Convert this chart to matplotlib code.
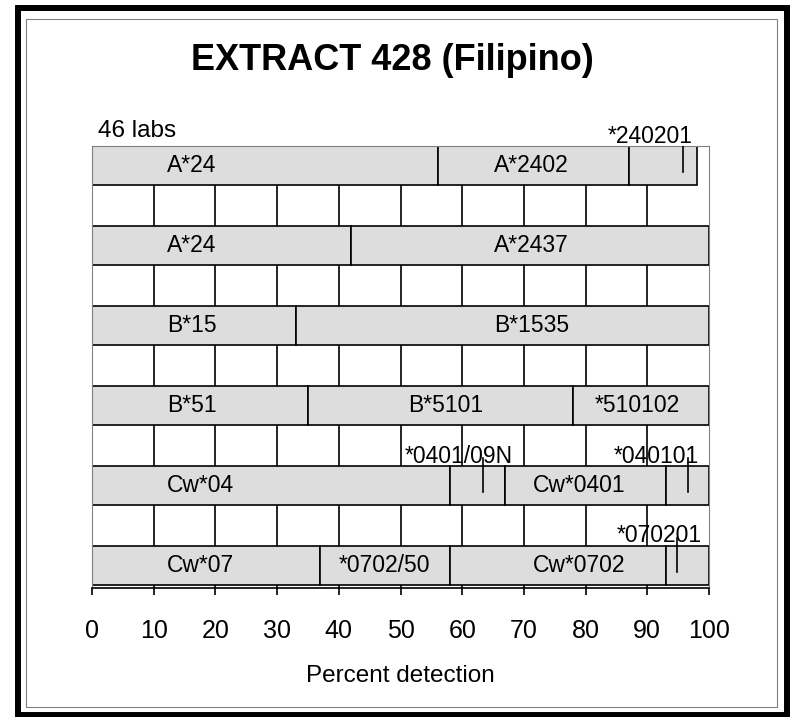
import matplotlib
matplotlib.use("Agg")
import matplotlib.pyplot as plt
from matplotlib import font_manager
from matplotlib.patches import Rectangle

# rows from top to bottom
seg_widths = [
    [56, 31, 11],
    [42, 58],
    [33, 67],
    [35, 43, 22],
    [58, 9, 26, 7],
    [37, 21, 35, 7],
]
seg_labels = [
    ["A*24", "A*2402", ""],
    ["A*24", "A*2437"],
    ["B*15", "B*1535"],
    ["B*51", "B*5101", "*510102"],
    ["Cw*04", "", "Cw*0401", ""],
    ["Cw*07", "*0702/50", "Cw*0702", ""],
]
# where each label text starts (percent)
label_x = [
    [12.1, 65.2, None],
    [12.1, 65.2],
    [12.1, 65.2],
    [12.1, 51.3, 81.4],
    [12.1, None, 71.5, None],
    [12.1, 40.0, 71.5, None],
]
# small alleles written above the bar with a pointer line
callout_row = [0, 4, 4, 5]
callout_text = ["*240201", "*0401/09N", "*040101", "*070201"]
callout_x = [90.5, 59.4, 91.4, 92.0]
callout_line_x = [95.8, 63.3, 96.6, 94.8]

xticks = [0, 10, 20, 30, 40, 50, 60, 70, 80, 90, 100]
n_labs = "46 labs"

names = {f.name for f in font_manager.fontManager.ttflist}
plt.rcParams["font.family"] = ["Liberation Sans", "DejaVu Sans"]

W, H = 790, 717
fig = plt.figure(figsize=(W / 100, H / 100), dpi=100)
ax = fig.add_axes([92 / W, 1 - 588 / H, 617 / W, 442 / H])

bar_h = 0.49
n = len(seg_widths)
for i, widths in enumerate(seg_widths):
    y = n - 1 - i
    left = 0
    for j, w in enumerate(widths):
        ax.barh(y, w, left=left, height=bar_h, color="#dddddd",
                edgecolor="black", linewidth=1.2, zorder=2)
        if seg_labels[i][j]:
            ax.text(label_x[i][j], y, seg_labels[i][j], ha="left", va="center",
                    fontsize=16.5, zorder=3)
        left += w

for r, t, tx, lx in zip(callout_row, callout_text, callout_x, callout_line_x):
    y = n - 1 - r
    ax.text(tx, y + bar_h / 2 + 0.04, t, ha="center", va="baseline",
            fontsize=16.5, zorder=4)
    ax.plot([lx, lx], [y + bar_h / 2 + 0.1, y - 0.08], color="black",
            linewidth=1.2, zorder=4)

ax.set_xlim(0, 100)
ax.set_ylim(-bar_h / 2 - 0.04, n - 1 + bar_h / 2)
ax.set_yticks([])
ax.set_xticks(xticks)
ax.tick_params(axis="x", direction="out", length=5, width=1.2,
               labelsize=18, pad=17.5)
ax.grid(axis="x", color="black", linewidth=1.2)
ax.set_axisbelow(True)
gl = ax.get_xgridlines()
gl[0].set_visible(False)
gl[-1].set_visible(False)
for s in ["left", "top", "right"]:
    ax.spines[s].set_color("#808080")
    ax.spines[s].set_linewidth(0.8)
ax.spines["bottom"].set_linewidth(1.2)
ax.set_xlabel("Percent detection", fontsize=17.5, labelpad=15.5)

if "Liberation Sans Narrow" in names:
    fig.text(392 / W, 1 - 70 / H, "EXTRACT 428 (Filipino)", ha="center",
             va="baseline", fontsize=31, fontweight="bold",
             family=["Liberation Sans Narrow", "Liberation Sans"])
else:
    fig.text(392 / W, 1 - 70 / H, "EXTRACT 428 (Filipino)", ha="center",
             va="baseline", fontsize=26, fontweight="bold")
fig.text(98 / W, 1 - 137 / H, n_labs, ha="left", va="baseline", fontsize=17.5)

# frame around the chart
fig.patches.append(Rectangle((18 / W, 1 - 714.5 / H), 768.5 / W, 707 / H,
                             transform=fig.transFigure, fill=False,
                             edgecolor="black", linewidth=4.3))
fig.patches.append(Rectangle((26 / W, 1 - 707 / H), 751 / W, 688 / H,
                             transform=fig.transFigure, fill=False,
                             edgecolor="#808080", linewidth=0.8))

fig.savefig("out.png", dpi=100, facecolor="white")
